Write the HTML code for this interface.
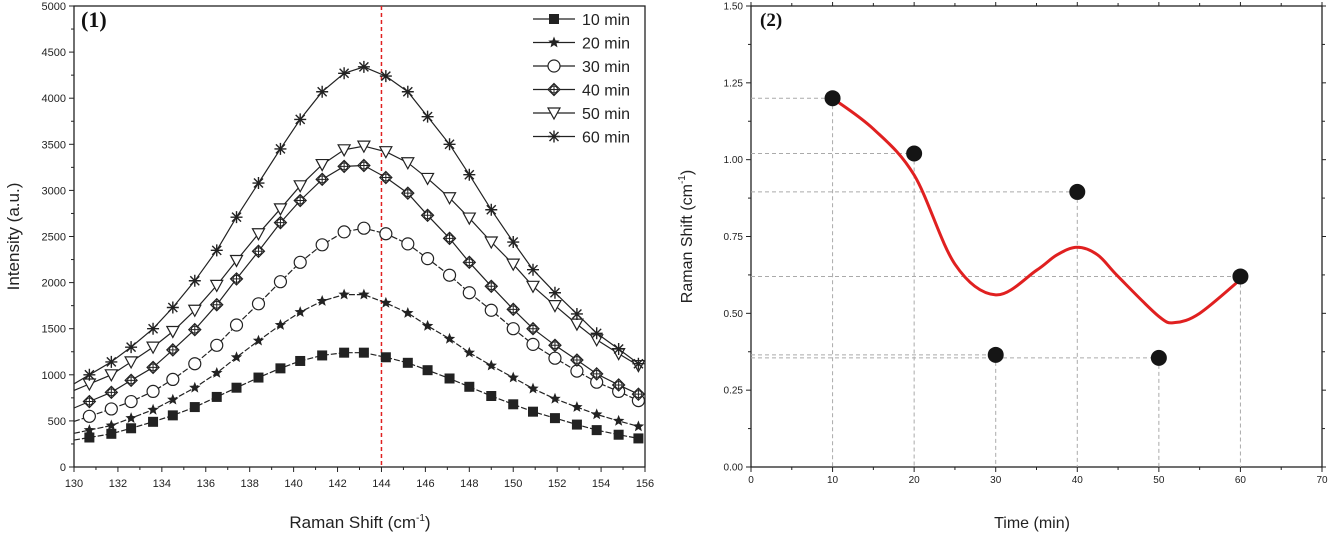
<!DOCTYPE html>
<html><head><meta charset="utf-8"><style>
body{margin:0;background:#fff;}
svg text{font-family:"Liberation Sans",sans-serif;}
</style></head><body>
<svg id="c" width="1335" height="536" viewBox="0 0 1335 536" xmlns="http://www.w3.org/2000/svg"></svg>
<script>
const ramanX=[130.7,131.7,132.6,133.6,134.5,135.5,136.5,137.4,138.4,139.4,140.3,141.3,142.3,143.2,144.2,145.2,146.1,147.1,148.0,149.0,150.0,150.9,151.9,152.9,153.8,154.8,155.7];
const s10=[320,360,420,490,560,650,760,860,970,1070,1150,1210,1240,1240,1190,1130,1050,960,870,770,680,600,530,460,400,350,310];
const s20=[400,450,530,620,730,860,1020,1190,1370,1540,1680,1800,1870,1870,1780,1670,1530,1390,1240,1100,970,850,740,650,570,500,440];
const s30=[550,630,710,820,950,1120,1320,1540,1770,2010,2220,2410,2550,2590,2530,2420,2260,2080,1890,1700,1500,1330,1180,1040,920,820,720];
const s40=[710,810,940,1080,1270,1490,1760,2040,2340,2650,2890,3120,3260,3270,3140,2970,2730,2480,2220,1960,1710,1500,1320,1160,1010,890,790];
const s50=[900,1000,1140,1300,1470,1700,1970,2240,2530,2800,3050,3280,3440,3480,3420,3300,3130,2920,2700,2440,2200,1960,1750,1550,1380,1230,1100];
const s60=[1000,1140,1300,1500,1730,2020,2350,2710,3080,3450,3770,4070,4270,4340,4240,4070,3800,3500,3170,2790,2440,2140,1890,1660,1450,1280,1120];
const seriesNames=["10 min","20 min","30 min","40 min","50 min","60 min"];
const leftYTicks=[0,500,1000,1500,2000,2500,3000,3500,4000,4500,5000];
const leftXTicks=[130,132,134,136,138,140,142,144,146,148,150,152,154,156];
const refLine=144;
const timeX=[10,20,30,40,50,60];
const shiftY=[1.20,1.02,0.365,0.895,0.355,0.62];
const fitX=[10,15,20,25,30,35,37.5,40,42.5,45,50,52,55,60];
const fitY=[1.2,1.1,0.95,0.66,0.56,0.64,0.69,0.715,0.69,0.62,0.49,0.47,0.5,0.61];
const rightXTicks=[0,10,20,30,40,50,60,70];
const rightYTicks=[0,0.25,0.5,0.75,1.0,1.25,1.5];

const svg=document.getElementById('c');const NS="http://www.w3.org/2000/svg";
function mk(t,a,p){const e=document.createElementNS(NS,t);for(const k in a)e.setAttribute(k,a[k]);(p||svg).appendChild(e);return e;}
function txt(x,y,s,a){const e=mk('text',Object.assign({x:x,y:y},a));e.textContent=s;return e;}

// LEFT
const L={x0:74,x1:645,y0:467,y1:6};
const lx=v=>L.x0+(v-130)/(156-130)*(L.x1-L.x0);
const ly=v=>L.y0-(v/5000)*(L.y0-L.y1);
const gl=mk('g',{});
mk('rect',{x:L.x0,y:L.y1,width:L.x1-L.x0,height:L.y0-L.y1,fill:'none',stroke:'#222','stroke-width':1.3},gl);
leftYTicks.forEach((v,i)=>{const y=ly(v);mk('line',{x1:L.x0-5,x2:L.x0,y1:y,y2:y,stroke:'#222'},gl);
 if(i<leftYTicks.length-1){const ym=ly(v+250);mk('line',{x1:L.x0-3,x2:L.x0,y1:ym,y2:ym,stroke:'#222'},gl);}
 const t=txt(L.x0-8,y+4,String(v),{'font-size':11,'text-anchor':'end',fill:'#222'},gl);});
leftXTicks.forEach((v,i)=>{const x=lx(v);mk('line',{x1:x,x2:x,y1:L.y0,y2:L.y0+5,stroke:'#222'},gl);
 if(i<leftXTicks.length-1){const xm=lx(v+1);mk('line',{x1:xm,x2:xm,y1:L.y0,y2:L.y0+3,stroke:'#222'},gl);}
 const t=txt(x,L.y0+20,String(v),{'font-size':11,'text-anchor':'middle',fill:'#222'},gl);});
let t=txt(0,0,'Intensity (a.u.)',{'font-size':17,'text-anchor':'middle',transform:`translate(19,${(L.y0+L.y1)/2}) rotate(-90)`,fill:'#222'},gl);

t=txt(360,528,'',{'font-size':17,'text-anchor':'middle',fill:'#222'},gl);
t.innerHTML='Raman Shift (cm<tspan dy="-7" font-size="10">-1</tspan><tspan dy="7">)</tspan>';

t=txt(81,27,'(1)',{'font-size':22,'font-weight':'bold',fill:'#111'},gl);t.style.fontFamily='"Liberation Serif",serif';

const ref=mk('line',{x1:lx(refLine),x2:lx(refLine),y1:L.y1,y2:L.y0,stroke:'#e02020','stroke-width':1.5,'stroke-dasharray':'4,3'},gl);


function marker(type,x,y,g){const r=5;
 if(type==0)mk('rect',{x:x-r,y:y-r,width:2*r,height:2*r,fill:'#222'},g);
 else if(type==1){let p=[];for(let k=0;k<10;k++){const a=-Math.PI/2+k*Math.PI/5,rr=k%2?2.6:6;p.push((x+rr*Math.cos(a)).toFixed(1)+','+(y+rr*Math.sin(a)).toFixed(1));}mk('polygon',{points:p.join(' '),fill:'#222'},g);}
 else if(type==2)mk('circle',{cx:x,cy:y,r:6,fill:'#fff',stroke:'#222','stroke-width':1.2},g);
 else if(type==3){mk('polygon',{points:`${x},${y-6} ${x+6},${y} ${x},${y+6} ${x-6},${y}`,fill:'#fff',stroke:'#222','stroke-width':1.2},g);mk('circle',{cx:x,cy:y,r:3.5,fill:'none',stroke:'#222'},g);mk('path',{d:`M${x-6} ${y}H${x+6}M${x} ${y-6}V${y+6}`,stroke:'#222'},g);}
 else if(type==4)mk('polygon',{points:`${x-6},${y-5} ${x+6},${y-5} ${x},${y+6}`,fill:'#fff',stroke:'#222','stroke-width':1.2},g);
 else {mk('path',{d:`M${x-6} ${y}H${x+6}M${x} ${y-6}V${y+6}M${x-4.5} ${y-4.5}L${x+4.5} ${y+4.5}M${x-4.5} ${y+4.5}L${x+4.5} ${y-4.5}`,stroke:'#222','stroke-width':1.4},g);}
}
const all=[s10,s20,s30,s40,s50,s60];
all.forEach((s,si)=>{const g=mk('g',{},gl);
 const sl=(s[1]-s[0])/(ramanX[1]-ramanX[0]);const y0=s[0]-sl*(ramanX[0]-130);
 let d=`M${lx(130)} ${ly(y0)}`;ramanX.forEach((x,i)=>d+=` L${lx(x).toFixed(1)} ${ly(s[i]).toFixed(1)}`);
 mk('path',{d:d,fill:'none',stroke:'#222','stroke-width':1.2,'stroke-dasharray':si<3?'6,2':'none'},g);
 ramanX.forEach((x,i)=>marker(si,lx(x),ly(s[i]),g));});
const lg=mk('g',{},gl);
seriesNames.forEach((n,i)=>{const y=19+i*23.5;const e=mk('g',{},lg);
 mk('line',{x1:533,x2:575,y1:y,y2:y,stroke:'#222','stroke-width':1.2},e);marker(i,554,y,e);
 txt(582,y+6,n,{'font-size':16,fill:'#222'},e);});

// RIGHT
const R={x0:751,x1:1322,y0:467,y1:6};
const rx=v=>R.x0+v/70*(R.x1-R.x0);
const ry=v=>R.y0-v/1.5*(R.y0-R.y1);
const gr=mk('g',{});
mk('rect',{x:R.x0,y:R.y1,width:R.x1-R.x0,height:R.y0-R.y1,fill:'none',stroke:'#222','stroke-width':1.3},gr);
rightYTicks.forEach((v,i)=>{const y=ry(v);
 [[R.x0-5,R.x0],[R.x1,R.x1+4]].forEach(p=>mk('line',{x1:p[0],x2:p[1],y1:y,y2:y,stroke:'#222'},gr));
 if(i<rightYTicks.length-1){const ym=ry(v+0.125);mk('line',{x1:R.x0-3,x2:R.x0,y1:ym,y2:ym,stroke:'#222'},gr);mk('line',{x1:R.x1,x2:R.x1+3,y1:ym,y2:ym,stroke:'#222'},gr);}
 const t=txt(R.x0-8,y+3.5,v.toFixed(2),{'font-size':10,'text-anchor':'end',fill:'#222'},gr);});
rightXTicks.forEach((v,i)=>{const x=rx(v);mk('line',{x1:x,x2:x,y1:R.y0,y2:R.y0+5,stroke:'#222'},gr);mk('line',{x1:x,x2:x,y1:R.y1-4,y2:R.y1,stroke:'#222'},gr);
 if(i<rightXTicks.length-1){const xm=rx(v+5);mk('line',{x1:xm,x2:xm,y1:R.y0,y2:R.y0+3,stroke:'#222'},gr);mk('line',{x1:xm,x2:xm,y1:R.y1-3,y2:R.y1,stroke:'#222'},gr);}
 const t=txt(x,R.y0+16,String(v),{'font-size':10,'text-anchor':'middle',fill:'#222'},gr);});
t=txt(0,0,'',{'font-size':16,'text-anchor':'middle',transform:`translate(692,${(R.y0+R.y1)/2}) rotate(-90)`,fill:'#222'},gr);
t.innerHTML='Raman Shift (cm<tspan dy="-7" font-size="10">-1</tspan><tspan dy="7">)</tspan>';

t=txt(1032,528,'Time (min)',{'font-size':16,'text-anchor':'middle',fill:'#222'},gr);

t=txt(760,26,'(2)',{'font-size':19,'font-weight':'bold',fill:'#111'},gr);t.style.fontFamily='"Liberation Serif",serif';

timeX.forEach((x,i)=>{const g=mk('g',{},gr);
 mk('line',{x1:R.x0,x2:rx(x),y1:ry(shiftY[i]),y2:ry(shiftY[i]),stroke:'#aaa','stroke-dasharray':'4,3'},g);
 mk('line',{x1:rx(x),x2:rx(x),y1:ry(shiftY[i]),y2:R.y0,stroke:'#aaa','stroke-dasharray':'4,3'},g);});
let pts=fitX.map((x,i)=>[rx(x),ry(fitY[i])]);let d=`M${pts[0][0]} ${pts[0][1]}`;
for(let i=0;i<pts.length-1;i++){const p0=pts[i-1]||pts[i],p1=pts[i],p2=pts[i+1],p3=pts[i+2]||p2;
 d+=` C${p1[0]+(p2[0]-p0[0])/6} ${p1[1]+(p2[1]-p0[1])/6} ${p2[0]-(p3[0]-p1[0])/6} ${p2[1]-(p3[1]-p1[1])/6} ${p2[0]} ${p2[1]}`;}
const fit=mk('path',{d:d,fill:'none',stroke:'#e02020','stroke-width':3},gr);

timeX.forEach((x,i)=>{const c=mk('circle',{cx:rx(x),cy:ry(shiftY[i]),r:8,fill:'#151515'},gr);
 });
</script>
</body></html>
